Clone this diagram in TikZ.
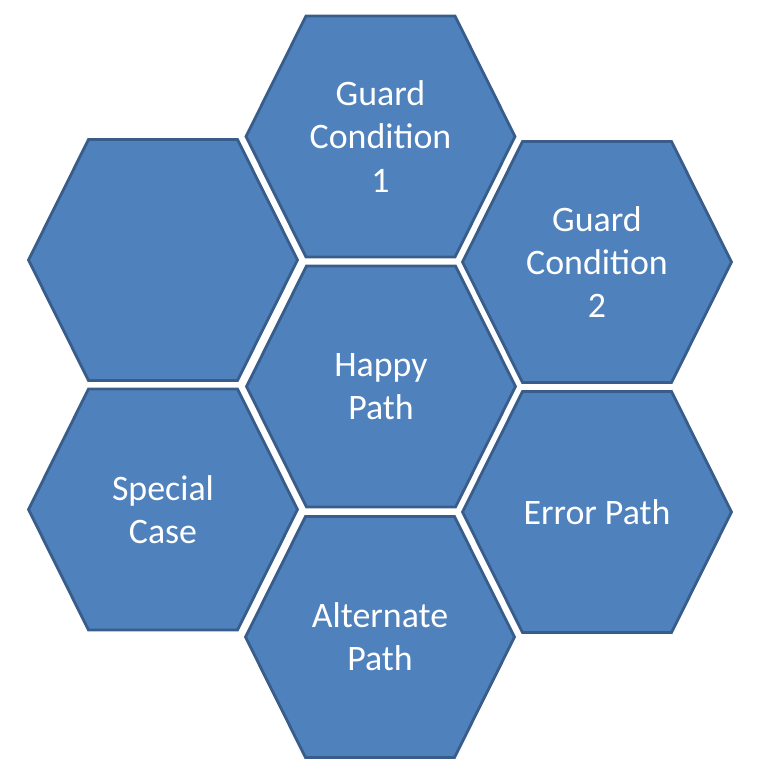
\documentclass[tikz,border=0pt]{standalone}
\usepackage{fontspec}
\setmainfont{Carlito}
\definecolor{hexfill}{HTML}{4F81BD}
\definecolor{hexline}{HTML}{385D8A}
\tikzset{
  hexcell/.style={fill=hexfill, draw=hexline, line width=2.1pt, line join=miter},
  hextext/.style={text=white, align=center, inner sep=0pt,
    font=\fontsize{26.9pt}{32.3pt}\selectfont}
}
\newcommand\hexat[4]{%
  \draw[hexcell] (#2-134.5,#3) -- (#2-74.5,#3-120.5) -- (#2+74.5,#3-120.5)
    -- (#2+134.5,#3) -- (#2+74.5,#3+120.5) -- (#2-74.5,#3+120.5) -- cycle;
  \node[hextext] (#1) at (#2,#3) {#4};
}
\begin{document}
\begin{tikzpicture}[x=0.75pt, y=-0.75pt]
  \useasboundingbox (0,0) rectangle (759,772);
  \hexat{gc1}{380.5}{136.5}{Guard\\Condition\\1}
  \hexat{empty}{163}{260}{}
  \hexat{gc2}{597}{262}{Guard\\Condition\\2}
  \hexat{happy}{381}{386.5}{Happy\\Path}
  \hexat{special}{163}{509.5}{Special\\Case}
  \hexat{error}{597}{512}{Error Path}
  \hexat{alt}{380}{637}{Alternate\\Path}
\end{tikzpicture}
\end{document}
